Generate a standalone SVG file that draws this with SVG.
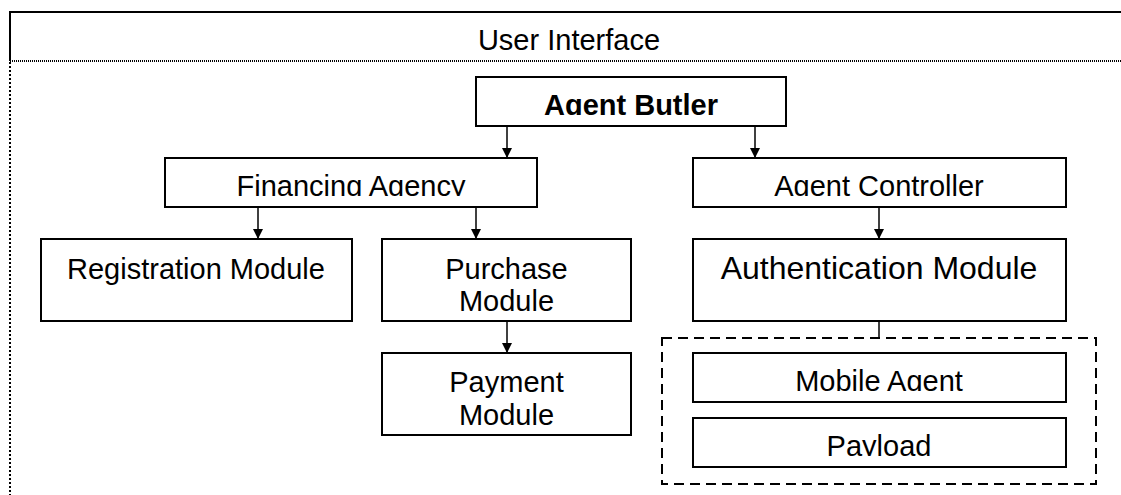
<svg xmlns="http://www.w3.org/2000/svg" width="1121" height="495" viewBox="0 0 1121 495">
<style>
  .box { fill: #fff; stroke: #000; stroke-width: 2; }
  .t { font-family: "Liberation Sans", Arial, sans-serif; font-size: 29px; fill: #000; text-anchor: middle; }
  .b { font-weight: bold; }
  .big { font-size: 32px; }
  .conn { stroke: #000; stroke-width: 1.5; fill: none; }
</style>
<defs>
  <marker id="arr" viewBox="0 0 10 10" refX="10" refY="5" markerWidth="10" markerHeight="10" markerUnits="userSpaceOnUse" orient="auto">
    <path d="M0,0 L10,5 L0,10 z" fill="#000"/>
  </marker>
  <clipPath id="cButler" clipPathUnits="userSpaceOnUse"><rect x="476" y="77" width="310" height="38"/></clipPath>
  <clipPath id="cFin" clipPathUnits="userSpaceOnUse"><rect x="165" y="158" width="372" height="38"/></clipPath>
  <clipPath id="cCtrl" clipPathUnits="userSpaceOnUse"><rect x="693" y="158" width="373" height="38"/></clipPath>
  <clipPath id="cMob" clipPathUnits="userSpaceOnUse"><rect x="693" y="353" width="373" height="38"/></clipPath>
  <clipPath id="cPay" clipPathUnits="userSpaceOnUse"><rect x="693" y="418" width="373" height="38"/></clipPath>
</defs>
<rect x="0" y="0" width="1121" height="495" fill="#fff"/>

<g id="user-interface">
  <line x1="10" y1="12" x2="1121" y2="12" stroke="#000" stroke-width="2"/>
  <line x1="10" y1="11" x2="10" y2="61" stroke="#000" stroke-width="2"/>
  <line x1="10" y1="61" x2="1121" y2="61" stroke="#000" stroke-width="2" stroke-dasharray="1 1"/>
  <line x1="10" y1="62" x2="10" y2="495" stroke="#000" stroke-width="2" stroke-dasharray="2 2"/>
  <text class="t" x="569" y="49.5">User Interface</text>
</g>

<g id="connectors">
  <line class="conn" x1="507" y1="126" x2="507" y2="158" marker-end="url(#arr)"/>
  <line class="conn" x1="755" y1="126" x2="755" y2="158" marker-end="url(#arr)"/>
  <line class="conn" x1="258" y1="207" x2="258" y2="239" marker-end="url(#arr)"/>
  <line class="conn" x1="476" y1="207" x2="476" y2="239" marker-end="url(#arr)"/>
  <line class="conn" x1="879" y1="207" x2="879" y2="239" marker-end="url(#arr)"/>
  <line class="conn" x1="507" y1="321" x2="507" y2="353" marker-end="url(#arr)"/>
  <line class="conn" x1="879" y1="321" x2="879" y2="338"/>
</g>

<g id="agent-butler">
  <rect class="box" x="476" y="77" width="310" height="49"/>
  <text class="t b" x="631" y="114.5" clip-path="url(#cButler)">Agent Butler</text>
</g>

<g id="financing-agency">
  <rect class="box" x="165" y="158" width="372" height="49"/>
  <text class="t" x="351" y="195.5" clip-path="url(#cFin)">Financing Agency</text>
</g>

<g id="agent-controller">
  <rect class="box" x="693" y="158" width="373" height="49"/>
  <text class="t" x="879" y="195.5" clip-path="url(#cCtrl)">Agent Controller</text>
</g>

<g id="registration-module">
  <rect class="box" x="41" y="239" width="311" height="82"/>
  <text class="t" x="196" y="278.5">Registration Module</text>
</g>

<g id="purchase-module">
  <rect class="box" x="382" y="239" width="249" height="82"/>
  <text class="t" x="506.5" y="278.5">Purchase</text>
  <text class="t" x="506.5" y="311">Module</text>
</g>

<g id="authentication-module">
  <rect class="box" x="693" y="239" width="373" height="82"/>
  <text class="t big" x="879" y="279">Authentication Module</text>
</g>

<g id="payment-module">
  <rect class="box" x="382" y="353" width="249" height="82"/>
  <text class="t" x="506.5" y="392">Payment</text>
  <text class="t" x="506.5" y="425">Module</text>
</g>

<g id="mobile-container">
  <rect x="662" y="338" width="434" height="146" fill="none" stroke="#000" stroke-width="2" stroke-dasharray="10 6"/>
</g>

<g id="mobile-agent">
  <rect class="box" x="693" y="353" width="373" height="49"/>
  <text class="t" x="879" y="390.5" clip-path="url(#cMob)">Mobile Agent</text>
</g>

<g id="payload">
  <rect class="box" x="693" y="418" width="373" height="49"/>
  <text class="t" x="879" y="455.5" clip-path="url(#cPay)">Payload</text>
</g>
</svg>
